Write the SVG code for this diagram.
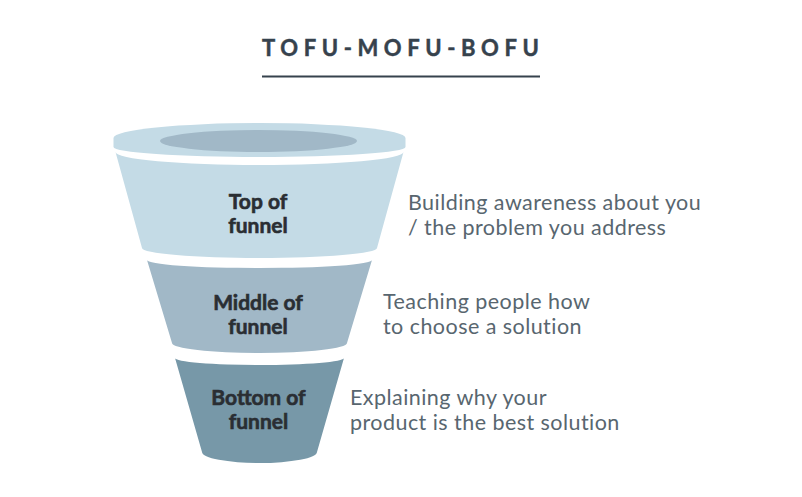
<svg xmlns="http://www.w3.org/2000/svg" width="802" height="497" viewBox="0 0 802 497">
<style>
  .title{font-family:Lato,"Open Sans",sans-serif;font-weight:700;font-size:22px;letter-spacing:5.6px;fill:#36424d;stroke:#36424d;stroke-width:0.5px}
  .stage{font-family:Lato,"Open Sans",sans-serif;font-weight:700;font-size:21px;fill:#2a2e33;stroke:#2a2e33;stroke-width:0.6px;text-anchor:middle}
  .desc{font-family:Lato,"Open Sans",sans-serif;font-weight:400;font-size:21.5px;letter-spacing:0.45px;fill:#58666f}
</style>
<rect width="802" height="497" fill="#ffffff"/>
<g id="title">
  <text class="title" x="262" y="56">TOFU-MOFU-BOFU</text>
  <line x1="262" y1="76.5" x2="540" y2="76.5" stroke="#36424d" stroke-width="2"/>
</g>
<g id="top-of-funnel">
  <path d="M113.5,138 A146,15 0 0 1 405.5,138 L405.5,147 A146,10 0 0 1 113.5,147 Z" fill="#c4dbe6"/>
  <ellipse cx="258.5" cy="141" rx="98.5" ry="11" fill="#a1b8c7"/>
  <path d="M115.5,152 A144,13 0 0 0 403.5,152 L377,248 A117.5,10 0 0 1 142,248 Z" fill="#c4dbe6"/>
  <text class="stage" x="258" y="208.5">Top of</text>
  <text class="stage" x="258" y="232.5">funnel</text>
  <text class="desc" x="408" y="209.5">Building awareness about you</text>
  <text class="desc" x="408" y="234.5">/ the problem you address</text>
</g>
<g id="middle-of-funnel">
  <path d="M147,260 A112.5,8 0 0 0 372,260 L347,343 A87.5,10 0 0 1 172,343 Z" fill="#a1b8c7"/>
  <text class="stage" x="258" y="309.5">Middle of</text>
  <text class="stage" x="258" y="333.5">funnel</text>
  <text class="desc" x="383" y="308.5">Teaching people how</text>
  <text class="desc" x="383" y="333.5">to choose a solution</text>
</g>
<g id="bottom-of-funnel">
  <path d="M175,358 A84.5,7 0 0 0 344,358 L317,452 A57.5,11 0 0 1 202,452 Z" fill="#7798a8"/>
  <text class="stage" x="258.5" y="404.5">Bottom of</text>
  <text class="stage" x="258.5" y="428.5">funnel</text>
  <text class="desc" x="350" y="404.5">Explaining why your</text>
  <text class="desc" x="350" y="429.5">product is the best solution</text>
</g>
<g id="connectors"></g>
</svg>
